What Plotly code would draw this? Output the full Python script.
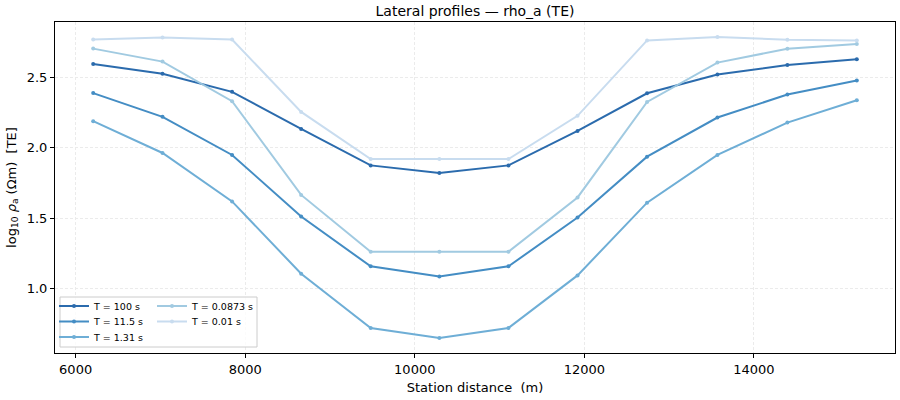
import plotly.graph_objects as go

stations = [6207, 7025, 7845, 8660, 9480, 10290, 11105, 11920, 12740, 13570, 14395, 15214]
periods = ["100", "11.5", "1.31", "0.0873", "0.01"]
rho_100 = [2.592, 2.523, 2.395, 2.132, 1.874, 1.820, 1.874, 2.118, 2.385, 2.518, 2.585, 2.626]
rho_11_5 = [2.386, 2.218, 1.948, 1.512, 1.159, 1.088, 1.159, 1.505, 1.936, 2.213, 2.376, 2.476]
rho_1_31 = [2.187, 1.962, 1.619, 1.107, 0.723, 0.652, 0.723, 1.095, 1.610, 1.948, 2.177, 2.335]
rho_0_0873 = [2.701, 2.609, 2.329, 1.665, 1.263, 1.263, 1.263, 1.647, 2.323, 2.602, 2.700, 2.733]
rho_0_01 = [2.765, 2.779, 2.765, 2.253, 1.919, 1.919, 1.919, 2.225, 2.759, 2.783, 2.764, 2.759]
series = [rho_100, rho_11_5, rho_1_31, rho_0_0873, rho_0_01]
colors = ["#2064a9", "#3a87c1", "#67aad4", "#9cc8e0", "#c6dbef"]

FONT = "DejaVu Sans"
W, H = 900, 400
L, R, T, B = 55, 5, 22, 47
pw, ph = W - L - R, H - T - B

def px_x(p):
    return (p - L) / pw

def px_y(p):
    return (H - B - p) / ph

# legend entry anchor positions in pixels (left x, centre y), two columns
legend_pos = [(54, 306), (54, 321.5), (54, 337), (152, 306), (152, 321.5)]

fig = go.Figure()
legend_layout = {}
for i, (per, ys, c) in enumerate(zip(periods, series, colors)):
    lid = "legend" if i == 0 else f"legend{i + 1}"
    fig.add_trace(go.Scatter(
        x=stations, y=ys, mode="lines+markers", name=f"T = {per} s",
        line=dict(color=c, width=2), marker=dict(color=c, size=4),
        opacity=0.95, legend=lid, showlegend=True,
    ))
    lx, ly = legend_pos[i]
    legend_layout[lid] = dict(
        x=px_x(lx), y=px_y(ly), xanchor="left", yanchor="middle",
        bgcolor="rgba(0,0,0,0)", borderwidth=0, visible=True,
        font=dict(family=FONT, size=9.5, color="black"), itemwidth=30,
    )

allv = [v for s in series for v in s]
ymin, ymax = min(allv), max(allv)
xmin, xmax = min(stations), max(stations)
my = 0.05 * (ymax - ymin)
mx = 0.05 * (xmax - xmin)

axis_common = dict(
    showline=True, linecolor="black", linewidth=1, mirror=True,
    ticks="outside", ticklen=4, tickcolor="black", tickwidth=1,
    showgrid=True, gridcolor="#ebebeb", griddash="3px,2px", gridwidth=1,
    zeroline=False, tickfont=dict(family=FONT, size=13, color="black"),
)

fig.update_layout(
    width=W, height=H,
    margin=dict(l=L, r=R, t=T, b=B),
    plot_bgcolor="white", paper_bgcolor="white",
    font=dict(family=FONT, color="black"),
    showlegend=True,
    title=dict(text="Lateral profiles — rho_a (TE)", x=0.5, xref="paper", xanchor="center",
               y=1 - 11 / H, yanchor="middle",
               font=dict(family=FONT, size=14, color="black")),
    xaxis=dict(range=[xmin - mx, xmax + mx], tickvals=[6000, 8000, 10000, 12000, 14000],
               tickformat="d",
               title=dict(text="Station distance  (m)", font=dict(family=FONT, size=13), standoff=7),
               **axis_common),
    yaxis=dict(range=[ymin - my, ymax + my], tickvals=[1.0, 1.5, 2.0, 2.5], tickformat=".1f",
               title=dict(text="log<sub>10</sub> <i>ρ</i><sub>a</sub> (Ωm)  [TE]",
                          font=dict(family=FONT, size=13), standoff=7),
               **axis_common),
    shapes=[dict(type="rect", xref="paper", yref="paper",
                 x0=px_x(60), x1=px_x(257), y0=px_y(347), y1=px_y(297),
                 line=dict(color="#cccccc", width=1),
                 fillcolor="rgba(255,255,255,0.8)", layer="above")],
    **legend_layout,
)

fig.write_html("out.html")
